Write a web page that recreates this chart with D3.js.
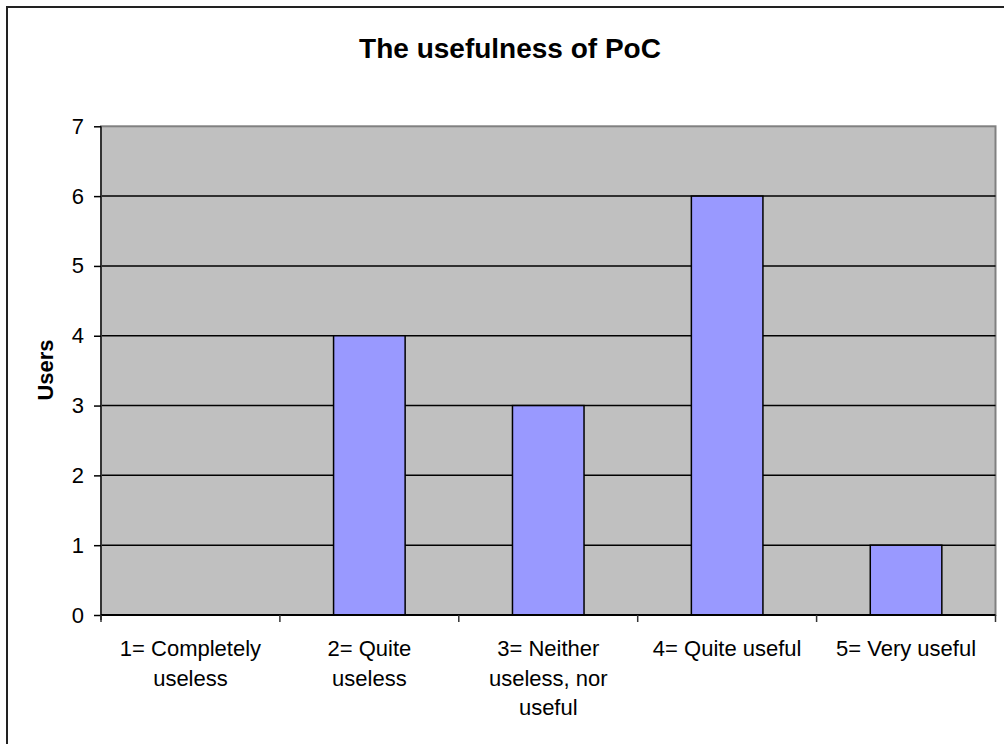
<!DOCTYPE html>
<html>
<head>
<meta charset="utf-8">
<script src="https://cdn.jsdelivr.net/npm/d3@7"></script>
<style>
  html, body { margin: 0; padding: 0; background: #fff; }
  svg { display: block; }
  text { font-family: Arial, "Liberation Sans", sans-serif; fill: #000; }
</style>
</head>
<body>
<svg id="chart" width="1004" height="744"></svg>
<script>
// Survey answers: how useful users found the PoC
const categories = [
  ["1= Completely", "useless"],
  ["2= Quite", "useless"],
  ["3= Neither", "useless, nor", "useful"],
  ["4= Quite useful"],
  ["5= Very useful"]
];
const users = [0, 4, 3, 6, 1];
const yTicks = [0, 1, 2, 3, 4, 5, 6, 7];

const svg = d3.select("#chart");
const plot = { left: 101, top: 126.3, right: 995.5, bottom: 615 };

// Chart frame (extends past the right and bottom edges)
svg.append("rect")
  .attr("x", 7).attr("y", 7)
  .attr("width", 1020).attr("height", 760)
  .attr("fill", "#fff")
  .attr("stroke", "#222").attr("stroke-width", 2);

const keys = categories.map((c, i) => i);
const x = d3.scaleBand()
  .domain(keys)
  .range([plot.left, plot.right])
  .paddingInner(0.6)
  .paddingOuter(0.3);
const y = d3.scaleLinear().domain([0, 7]).range([plot.bottom, plot.top]);

// Plot area background
svg.append("rect")
  .attr("x", plot.left).attr("y", plot.top)
  .attr("width", plot.right - plot.left)
  .attr("height", plot.bottom - plot.top)
  .attr("fill", "#c0c0c0")
  .attr("stroke", "#808080").attr("stroke-width", 2);

// Horizontal gridlines
svg.append("g")
  .selectAll("line")
  .data(yTicks.filter(t => t > 0 && t < 7))
  .join("line")
  .attr("x1", plot.left).attr("x2", plot.right)
  .attr("y1", d => y(d)).attr("y2", d => y(d))
  .attr("stroke", "#000").attr("stroke-width", 1.5);

// Bars
const barData = users.map((v, i) => ({ key: keys[i], value: v })).filter(d => d.value > 0);
svg.append("g")
  .selectAll("rect")
  .data(barData)
  .join("rect")
  .attr("x", d => x(d.key))
  .attr("y", d => y(d.value))
  .attr("width", x.bandwidth())
  .attr("height", d => y(0) - y(d.value))
  .attr("fill", "#9999ff")
  .attr("stroke", "#000").attr("stroke-width", 1.5);

// Y axis
const yAxis = d3.axisLeft(y).tickValues(yTicks).tickSize(7).tickPadding(10)
  .tickFormat(d3.format("d"));
const gy = svg.append("g")
  .attr("transform", `translate(${plot.left},0)`)
  .call(yAxis);
gy.select(".domain").attr("stroke", "#333").attr("stroke-width", 2)
  .attr("d", `M0,${plot.top}V${plot.bottom + 5}`);
gy.selectAll(".tick line").attr("stroke", "#000").attr("stroke-width", 1.5);
gy.selectAll(".tick text")
  .attr("font-size", 22)
  .attr("font-family", "Arial, 'Liberation Sans', sans-serif")
  .attr("fill", "#000");

// X axis: baseline and category boundary ticks
const step = x.step();
const boundaries = d3.range(categories.length + 1).map(i => plot.left + i * step);
svg.append("line")
  .attr("x1", plot.left).attr("x2", plot.right)
  .attr("y1", plot.bottom).attr("y2", plot.bottom)
  .attr("stroke", "#000").attr("stroke-width", 2);
svg.append("g")
  .selectAll("line")
  .data(boundaries)
  .join("line")
  .attr("x1", d => d).attr("x2", d => d)
  .attr("y1", plot.bottom).attr("y2", plot.bottom + 7)
  .attr("stroke", "#333").attr("stroke-width", 1.5);

// Category labels (multi-line)
const labels = svg.append("g")
  .selectAll("text")
  .data(categories)
  .join("text")
  .attr("text-anchor", "middle")
  .attr("font-size", 22)
  .attr("x", (d, i) => x(keys[i]) + x.bandwidth() / 2)
  .attr("y", plot.bottom + 41);
labels.selectAll("tspan")
  .data(d => d)
  .join("tspan")
  .attr("x", function() { return d3.select(this.parentNode).attr("x"); })
  .attr("dy", (d, i) => i === 0 ? 0 : 29.5)
  .text(d => d);

// Title
svg.append("text")
  .attr("x", 510).attr("y", 58)
  .attr("text-anchor", "middle")
  .attr("font-size", 28)
  .attr("font-weight", "bold")
  .text("The usefulness of PoC");

// Y axis title
svg.append("text")
  .attr("transform", `translate(53,370) rotate(-90)`)
  .attr("text-anchor", "middle")
  .attr("font-size", 22)
  .attr("font-weight", "bold")
  .text("Users");
</script>
</body>
</html>
